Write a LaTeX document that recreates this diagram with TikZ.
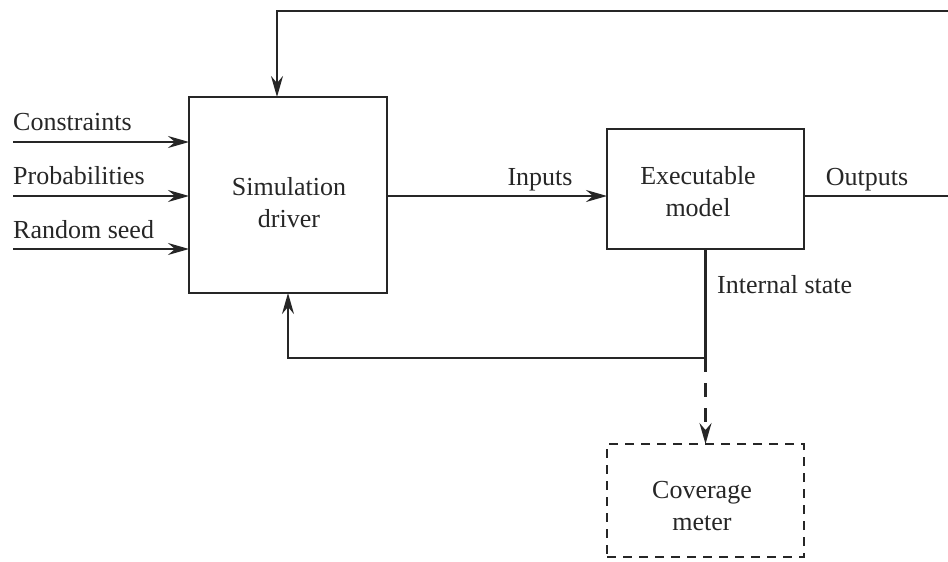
\documentclass[tikz,border=0pt]{standalone}
\usepackage{fontspec}
\setmainfont{Liberation Serif}
\usetikzlibrary{arrows.meta}
\begin{document}
\begin{tikzpicture}[x=1pt,y=-1pt,
  font=\fontsize{26}{32}\selectfont,
  conn/.style={line width=2.1pt,line join=miter,draw=black!85},
  tip/.style={-{Stealth[length=21pt,width=12pt,inset=7pt]}},
  arr/.style={conn,tip},
  blockbox/.style={draw=black!85,line width=2pt,inner sep=0pt,outer sep=0pt},
  dashbox/.style={draw=black!85,line width=1.6pt,dash pattern=on 9pt off 7pt,inner sep=0pt,outer sep=0pt},
  lbl/.style={inner sep=0pt,text=black!85},
  blocktxt/.style={inner sep=0pt,align=center,text=black!85}]
\useasboundingbox (0,0) rectangle (948,562);

% blocks
\node[blockbox,minimum width=198pt,minimum height=196pt] (driver) at (288,195) {};
\node[blockbox,minimum width=197pt,minimum height=120pt] (model) at (705.5,189) {};
\node[dashbox,minimum width=197pt,minimum height=113pt] (cov) at (705.5,500.5) {};
\node[blocktxt] (drivertxt) at (289,203) {Simulation\\driver};
\node[blocktxt] (modeltxt) at (698,191.5) {Executable\\model};
\node[blocktxt] (covtxt) at (702,506) {Coverage\\meter};

% input arrows
\coordinate (c1) at (13,142);
\coordinate (c2) at (13,196);
\coordinate (c3) at (13,249);
\draw[arr] (c1) -- (c1 -| driver.west);
\draw[arr] (c2) -- (c2 -| driver.west);
\draw[arr] (c3) -- (c3 -| driver.west);
\node[lbl,anchor=base west] (lc) at (13,130) {Constraints};
\node[lbl,anchor=base west] (lp) at (13,184) {Probabilities};
\node[lbl,anchor=base west] (lr) at (13,238) {Random seed};

% inputs to model
\coordinate (iy) at (0,196);
\draw[arr] (iy -| driver.east) -- (iy -| model.west);
\node[lbl,anchor=base] (li) at (540,185) {Inputs};

% outputs and top feedback
\coordinate (outR) at (949,196);
\draw[conn] (outR -| model.east) -- (outR);
\node[lbl,anchor=base] (lo) at (867,185) {Outputs};
\coordinate (topR) at (949,11);
\coordinate (topL) at (277,11);
\draw[arr] (topR) -- (topL) -- (topL |- driver.north);

% internal state feedback
\coordinate (j) at (705.5,358);
\coordinate (fb) at (288,358);
\draw[arr] (model.south) -- (j) -- (fb) -- (fb |- driver.south);
\node[lbl,anchor=base west] (ls) at (717,293) {Internal state};

% to coverage meter
\draw[conn,tip,dash pattern=on 14pt off 11pt] (j) -- (cov.north);
\end{tikzpicture}
\end{document}
